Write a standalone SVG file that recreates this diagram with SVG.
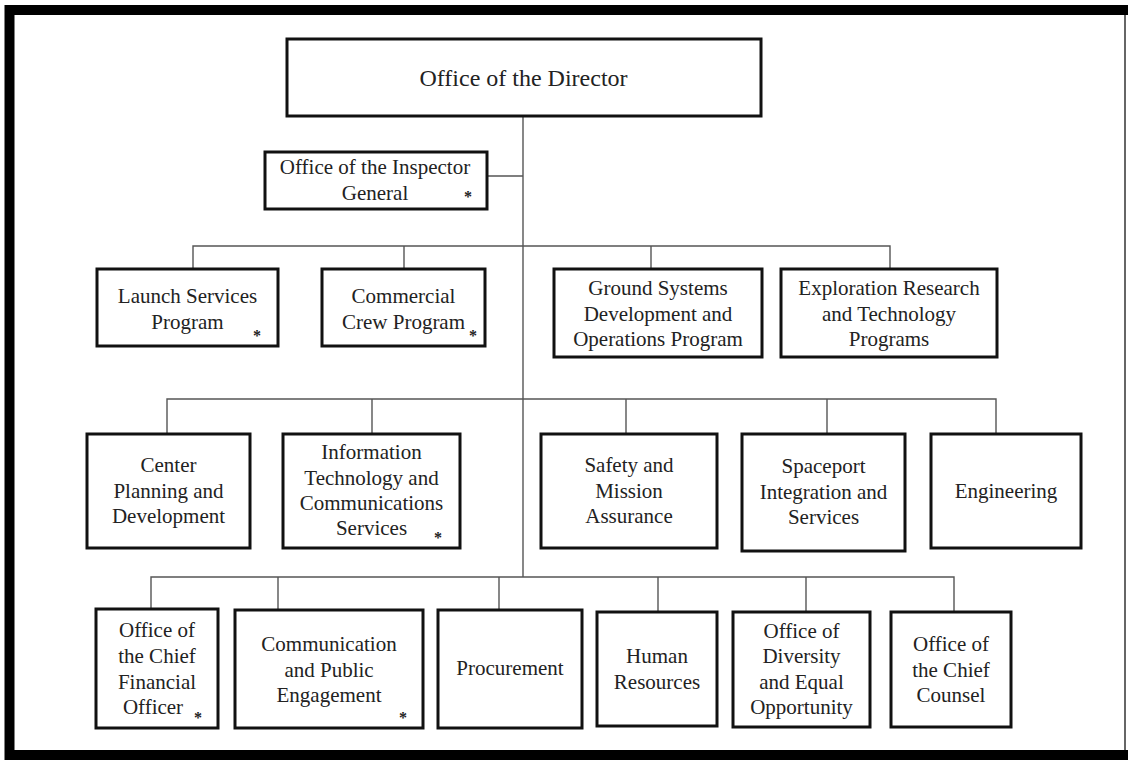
<svg xmlns="http://www.w3.org/2000/svg" width="1128" height="763" viewBox="0 0 1128 763">
<style>
.box{fill:#fff;stroke:#111;stroke-width:3}
.t{font-family:"Liberation Serif","Times New Roman",serif;font-size:21px;fill:#222;text-anchor:middle}
.big{font-size:24px}
.ast{font-family:"Liberation Serif","Times New Roman",serif;font-size:16px;font-weight:bold;fill:#222;text-anchor:middle}
.c{fill:none;stroke:#555;stroke-width:1.4}
</style>
<rect x="0" y="0" width="1128" height="763" fill="#fff"/>
<g id="frame">
<path d="M9.5 760 V10 H1128" fill="none" stroke="#000" stroke-width="10"/>
<path d="M5 755 H1128" fill="none" stroke="#000" stroke-width="10"/>
<path d="M1125 15 V750" fill="none" stroke="#666" stroke-width="2"/>
</g>
<g id="connectors" class="c">
<path d="M523 116 V577"/>
<path d="M487 176 H523"/>
<path d="M193 269 V246 H890 V269"/>
<path d="M404 246 V269"/>
<path d="M651 246 V269"/>
<path d="M167 434 V399 H996 V434"/>
<path d="M372 399 V434"/>
<path d="M626 399 V434"/>
<path d="M827 399 V434"/>
<path d="M151 609 V577 H954 V612"/>
<path d="M278 577 V610"/>
<path d="M499 577 V610"/>
<path d="M658 577 V612"/>
<path d="M806 577 V612"/>
</g>
<g id="director">
<rect class="box" x="287" y="39" width="474" height="77"/>
<text class="t big" x="523.5" y="86">Office of the Director</text>
</g>
<g id="inspector-general">
<rect class="box" x="265" y="152" width="222" height="57"/>
<text class="t" x="375" y="174">Office of the Inspector</text>
<text class="t" x="375" y="200">General</text>
<text class="ast" x="468" y="202">*</text>
</g>
<g id="launch-services">
<rect class="box" x="97" y="269" width="181" height="77"/>
<text class="t" x="187.5" y="303">Launch Services</text>
<text class="t" x="187.5" y="329">Program</text>
<text class="ast" x="257" y="341">*</text>
</g>
<g id="commercial-crew">
<rect class="box" x="322" y="269" width="163" height="77"/>
<text class="t" x="403.5" y="303">Commercial</text>
<text class="t" x="403.5" y="329">Crew Program</text>
<text class="ast" x="473" y="341">*</text>
</g>
<g id="ground-systems">
<rect class="box" x="554" y="269" width="208" height="88"/>
<text class="t" x="658" y="295">Ground Systems</text>
<text class="t" x="658" y="320.5">Development and</text>
<text class="t" x="658" y="346">Operations Program</text>
</g>
<g id="exploration-research">
<rect class="box" x="781" y="269" width="216" height="88"/>
<text class="t" x="889" y="295">Exploration Research</text>
<text class="t" x="889" y="320.5">and Technology</text>
<text class="t" x="889" y="346">Programs</text>
</g>
<g id="center-planning">
<rect class="box" x="87" y="434" width="163" height="114"/>
<text class="t" x="168.5" y="472">Center</text>
<text class="t" x="168.5" y="497.5">Planning and</text>
<text class="t" x="168.5" y="523">Development</text>
</g>
<g id="it-communications">
<rect class="box" x="283" y="434" width="177" height="114"/>
<text class="t" x="371.5" y="459">Information</text>
<text class="t" x="371.5" y="484.5">Technology and</text>
<text class="t" x="371.5" y="510">Communications</text>
<text class="t" x="371.5" y="535">Services</text>
<text class="ast" x="438" y="543">*</text>
</g>
<g id="safety-mission">
<rect class="box" x="541" y="434" width="176" height="114"/>
<text class="t" x="629" y="472">Safety and</text>
<text class="t" x="629" y="497.5">Mission</text>
<text class="t" x="629" y="523">Assurance</text>
</g>
<g id="spaceport">
<rect class="box" x="742" y="434" width="163" height="117"/>
<text class="t" x="823.5" y="473">Spaceport</text>
<text class="t" x="823.5" y="498.5">Integration and</text>
<text class="t" x="823.5" y="524">Services</text>
</g>
<g id="engineering">
<rect class="box" x="931" y="434" width="150" height="114"/>
<text class="t" x="1006" y="498">Engineering</text>
</g>
<g id="cfo">
<rect class="box" x="96" y="609" width="122" height="119"/>
<text class="t" x="157" y="637">Office of</text>
<text class="t" x="157" y="663">the Chief</text>
<text class="t" x="157" y="689">Financial</text>
<text class="t" x="153" y="714">Officer</text>
<text class="ast" x="198" y="723">*</text>
</g>
<g id="communication-engagement">
<rect class="box" x="235" y="610" width="188" height="118"/>
<text class="t" x="329" y="651">Communication</text>
<text class="t" x="329" y="677">and Public</text>
<text class="t" x="329" y="702">Engagement</text>
<text class="ast" x="403" y="723">*</text>
</g>
<g id="procurement">
<rect class="box" x="438" y="610" width="144" height="118"/>
<text class="t" x="510" y="675">Procurement</text>
</g>
<g id="human-resources">
<rect class="box" x="597" y="612" width="120" height="114"/>
<text class="t" x="657" y="663">Human</text>
<text class="t" x="657" y="689">Resources</text>
</g>
<g id="diversity">
<rect class="box" x="733" y="612" width="137" height="115"/>
<text class="t" x="801.5" y="638">Office of</text>
<text class="t" x="801.5" y="663">Diversity</text>
<text class="t" x="801.5" y="689">and Equal</text>
<text class="t" x="801.5" y="714">Opportunity</text>
</g>
<g id="chief-counsel">
<rect class="box" x="891" y="612" width="120" height="115"/>
<text class="t" x="951" y="651">Office of</text>
<text class="t" x="951" y="677">the Chief</text>
<text class="t" x="951" y="702">Counsel</text>
</g>
</svg>
